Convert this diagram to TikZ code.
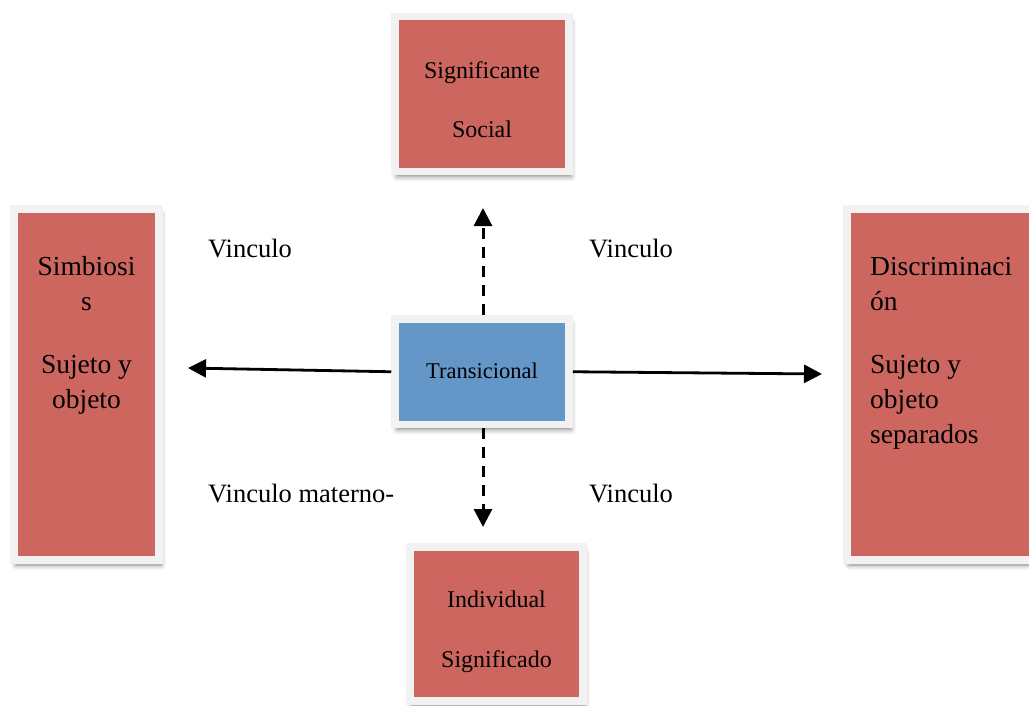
\documentclass[tikz,border=0pt]{standalone}
\usepackage{fontspec}
\setmainfont{Liberation Serif}
\usetikzlibrary{arrows.meta,shadows.blur}

\definecolor{boxred}{HTML}{CD665F}
\definecolor{boxblue}{HTML}{6496C8}
\definecolor{framegray}{HTML}{F2F2F2}

\begin{document}
\begin{tikzpicture}[x=1pt,y=-1pt,
  panel/.style={rectangle, draw=framegray, line width=7.5pt, inner sep=0pt,
    blur shadow={shadow xshift=2pt, shadow yshift=-5pt,
      shadow blur radius=5pt, shadow opacity=50}},
  redpanel/.style={panel, fill=boxred},
  bluepanel/.style={panel, fill=boxblue},
  txt/.style={inner sep=0pt, anchor=base, font=\fontsize{24}{28}\selectfont},
  bigtxt/.style={inner sep=0pt, font=\fontsize{27.5}{31}\selectfont},
  lbl/.style={inner sep=0pt, anchor=base west, font=\fontsize{26.5}{30}\selectfont},
  solidarrow/.style={line width=2.8pt, -{Triangle[length=18pt,width=18pt]}},
  dasharrow/.style={line width=3pt, dash pattern=on 11pt off 8pt,
    -{Triangle[length=18pt,width=18pt]}}
]
\useasboundingbox (0,0) rectangle (1029,705);
\clip (0,0) rectangle (1029,705);

% boxes
\node[redpanel, minimum width=174pt, minimum height=155pt] (soc) at (482,94) {};
\node[redpanel, minimum width=145pt, minimum height=351pt] (sim) at (86.5,384.5) {};
\node[redpanel, minimum width=200pt, minimum height=351pt] (dis) at (947,384.5) {};
\node[bluepanel, minimum width=174pt, minimum height=105.5pt] (tr) at (482,371.75) {};
\node[redpanel, minimum width=173pt, minimum height=154pt] (ind) at (496.5,624) {};

% box texts
\node[txt] (t1) at (482,78) {Significante};
\node[txt] (t2) at (482,137) {Social};

\node[bigtxt, anchor=base] (s1) at (86.5,275) {Simbiosi};
\node[bigtxt, anchor=base] (s2) at (86.5,310) {s};
\node[bigtxt, anchor=base] (s3) at (86.5,373) {Sujeto y};
\node[bigtxt, anchor=base] (s4) at (86.5,408) {objeto};

\node[bigtxt, anchor=base west] (d1) at (870,275) {Discriminaci};
\node[bigtxt, anchor=base west] (d2) at (870,310) {ón};
\node[bigtxt, anchor=base west] (d3) at (870,373) {Sujeto y};
\node[bigtxt, anchor=base west] (d4) at (870,408) {objeto};
\node[bigtxt, anchor=base west] (d5) at (870,443) {separados};

\node[txt, font=\fontsize{22.5}{26}\selectfont] (tt) at (482,378) {Transicional};

\node[txt] (i1) at (496.5,607) {Individual};
\node[txt] (i2) at (496.5,667) {Significado};

% free labels
\node[lbl] (v1) at (208,257) {Vinculo};
\node[lbl] (v2) at (589,257) {Vinculo};
\node[lbl] (v3) at (208,502) {Vinculo materno-};
\node[lbl] (v4) at (589,502) {Vinculo};

% connectors
\coordinate (lefttip) at (188,368);
\coordinate (righttip) at (822,374);
\coordinate (uptip) at (483,208);
\coordinate (downtip) at (483,527);

\draw[solidarrow] (tr.west) -- (lefttip);
\draw[solidarrow] (tr.east) -- (righttip);
\draw[dasharrow] (tr.north -| uptip) -- (uptip);
\draw[dasharrow] (tr.south -| downtip) -- (downtip);
\end{tikzpicture}
\end{document}
